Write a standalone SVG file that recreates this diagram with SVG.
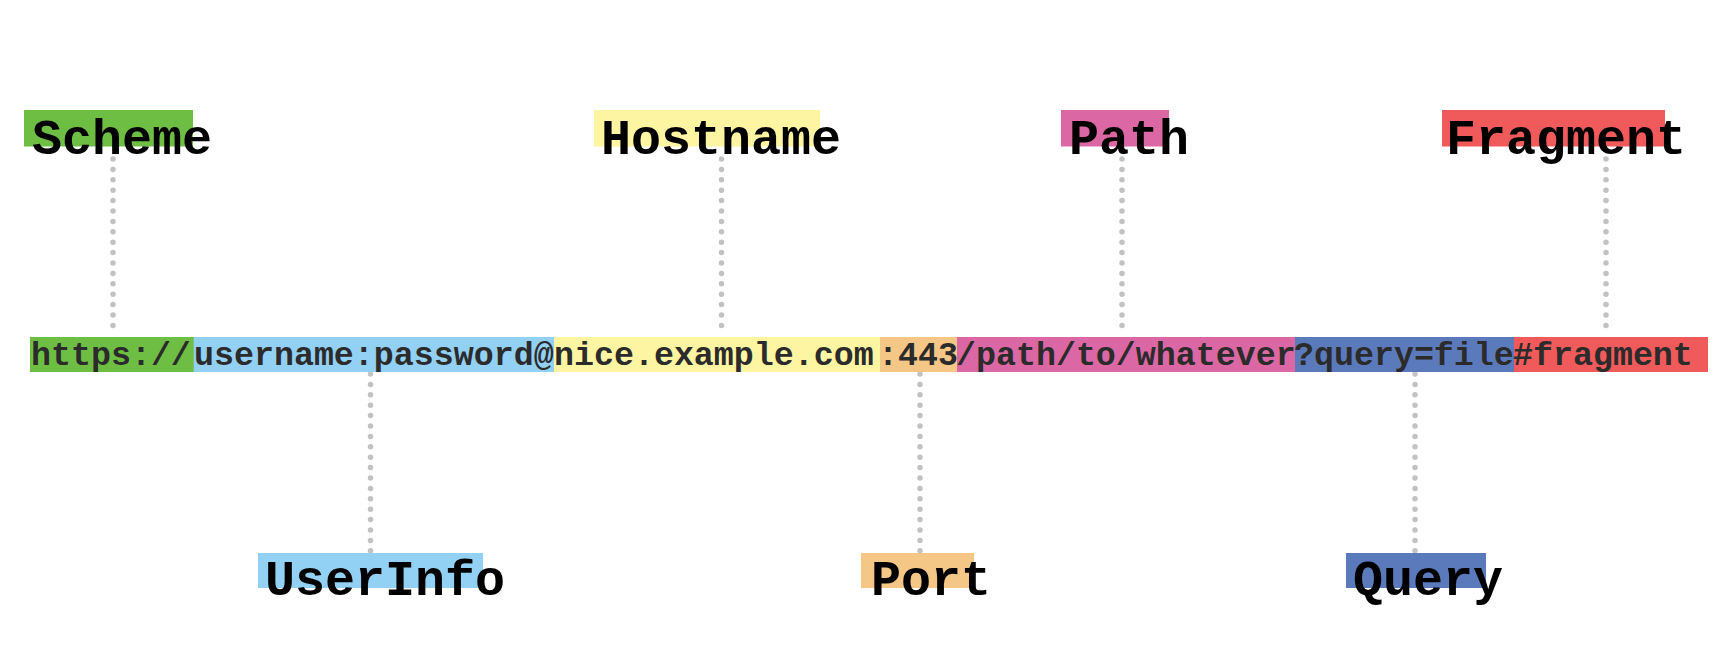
<svg xmlns="http://www.w3.org/2000/svg" width="1715" height="651" viewBox="0 0 1715 651">
<style>
.url{font-family:"Courier New","Liberation Mono",monospace;font-weight:bold;font-size:33.3px;fill:#2b2b2b}
.lbl{font-family:"Courier New","Liberation Mono",monospace;font-weight:bold;font-size:50px;fill:#000}
.conn{stroke:#c2c2c2;stroke-width:5.5;stroke-linecap:round;stroke-dasharray:0 10.4;fill:none}
.scheme{fill:#6ebe44}.user{fill:#92d0f4}.host{fill:#fdf5a2}.port{fill:#f5c787}.path{fill:#dc67a5}.query{fill:#5b7abc}.frag{fill:#f15a5a}
</style>
<rect width="1715" height="651" fill="#fff"/>
<g id="connectors">
<line class="conn" x1="113" y1="159" x2="113" y2="335"/>
<line class="conn" x1="721.5" y1="159" x2="721.5" y2="335"/>
<line class="conn" x1="1122" y1="159" x2="1122" y2="335"/>
<line class="conn" x1="1606" y1="159" x2="1606" y2="335"/>
<line class="conn" x1="370.5" y1="374" x2="370.5" y2="551"/>
<line class="conn" x1="920" y1="374" x2="920" y2="551"/>
<line class="conn" x1="1415" y1="374" x2="1415" y2="551"/>
</g>
<g id="url">
<rect class="scheme" x="30" y="337" width="164" height="35"/>
<rect class="user" x="193.7" y="337" width="361" height="35"/>
<rect class="host" x="554" y="337" width="326.5" height="35"/>
<rect class="port" x="880" y="337" width="77.5" height="35"/>
<rect class="path" x="957" y="337" width="338.5" height="35"/>
<rect class="query" x="1295" y="337" width="219.5" height="35"/>
<rect class="frag" x="1514" y="337" width="194" height="35"/>
<text class="url" x="31" y="365">https://</text>
<text class="url" x="194" y="365">username:password@</text>
<text class="url" x="554" y="365">nice.example.com</text>
<text class="url" x="878" y="365">:443</text>
<text class="url" x="956" y="365">/path/to/whatever</text>
<text class="url" x="1294" y="365">?query=file</text>
<text class="url" x="1513" y="365">#fragment</text>
</g>
<g id="scheme">
<rect class="scheme" x="24" y="110" width="169" height="36.5"/>
<text class="lbl" x="32" y="154">Scheme</text>
</g>
<g id="hostname">
<rect class="host" x="594" y="110" width="226" height="36.5"/>
<text class="lbl" x="601" y="154">Hostname</text>
</g>
<g id="path">
<rect class="path" x="1061" y="110" width="108" height="36.5"/>
<text class="lbl" x="1069" y="154">Path</text>
</g>
<g id="fragment">
<rect class="frag" x="1442" y="110" width="223" height="36.5"/>
<text class="lbl" x="1446" y="154">Fragment</text>
</g>
<g id="userinfo">
<rect class="user" x="258" y="553" width="225" height="35"/>
<text class="lbl" x="265" y="595">UserInfo</text>
</g>
<g id="port">
<rect class="port" x="861" y="553" width="113" height="35"/>
<text class="lbl" x="871" y="595">Port</text>
</g>
<g id="query">
<rect class="query" x="1346" y="553" width="140" height="35"/>
<text class="lbl" x="1353" y="595">Query</text>
</g>
</svg>
